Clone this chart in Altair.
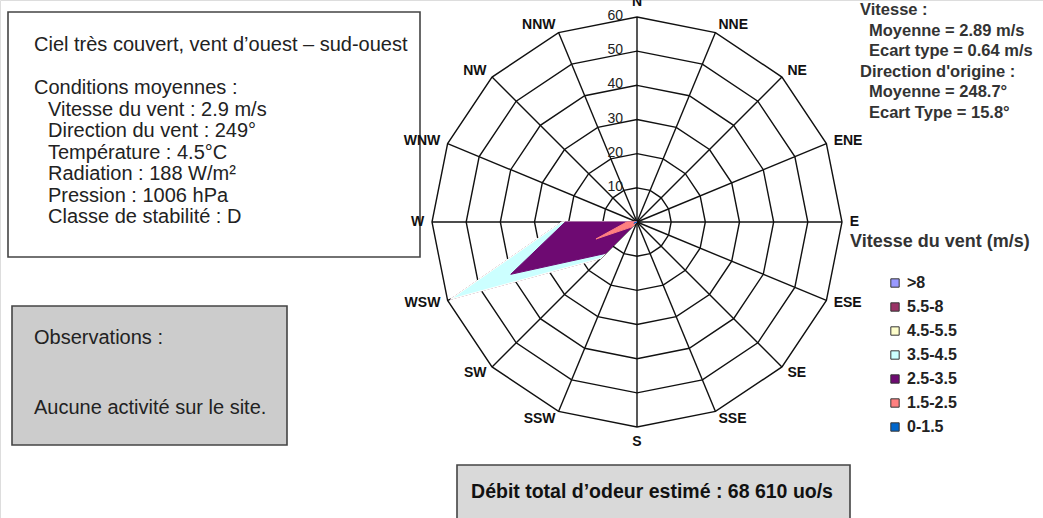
import altair as alt
import pandas as pd

# Compass sectors, clockwise from north
directions = ["N", "NNE", "NE", "ENE", "E", "ESE", "SE", "SSE",
              "S", "SSW", "SW", "WSW", "W", "WNW", "NW", "NNW"]

# Wind-speed classes (m/s), lowest first
classes = ["0-1.5", "1.5-2.5", "2.5-3.5", "3.5-4.5", "4.5-5.5", "5.5-8", ">8"]
class_colors = ["#0066CC", "#FF8080", "#6E0A72", "#CCFFFF", "#FFFFCC", "#993366", "#9999FF"]

# Frequency (%) of each class per sector
freq = {
    "0-1.5":   [0, 0, 0, 0, 0, 0, 0, 0, 0, 0, 0, 1, 0, 0, 0, 0],
    "1.5-2.5": [0, 0, 0, 0, 0, 0, 0, 0, 0, 0, 2, 12, 3, 0, 0, 0],
    "2.5-3.5": [0, 0, 0, 0, 0, 0, 0, 0, 0, 0, 11, 27, 18, 0, 0, 0],
    "3.5-4.5": [0, 0, 0, 0, 0, 0, 0, 0, 0, 0, 2, 19, 1, 0, 0, 0],
    "4.5-5.5": [0, 0, 0, 0, 0, 0, 0, 0, 0, 0, 0, 0, 0, 0, 0, 0],
    "5.5-8":   [0, 0, 0, 0, 0, 0, 0, 0, 0, 0, 0, 0, 0, 0, 0, 0],
    ">8":      [0, 0, 0, 0, 0, 0, 0, 0, 0, 0, 0, 0, 0, 0, 0, 0],
}

rings = [10, 20, 30, 40, 50, 60]

# Text blocks
conditions_title = "Ciel très couvert, vent d’ouest – sud-ouest"
conditions_lines = [
    "Conditions moyennes :",
    "Vitesse du vent : 2.9 m/s",
    "Direction du vent : 249°",
    "Température : 4.5°C",
    "Radiation : 188 W/m²",
    "Pression : 1006 hPa",
    "Classe de stabilité : D",
]
stats_lines = [
    ("Vitesse :", 0),
    ("Moyenne = 2.89 m/s", 1),
    ("Ecart type = 0.64 m/s", 1),
    ("Direction d'origine :", 0),
    ("Moyenne = 248.7°", 1),
    ("Ecart Type = 15.8°", 1),
]
observations = ["Observations :", "Aucune activité sur le site."]
total_flow = "Débit total d’odeur estimé : 68 610 uo/s"

FONT = "Liberation Sans"
W, H = 1043, 518
CX, CY, R60 = 637, 222, 205          # centre and outer-ring radius in pixels
ppu = R60 / 60.0
x_dom = [-CX / ppu, (W - CX) / ppu]
y_dom = [-(H - CY) / ppu, CY / ppu]

# ---- tables ---------------------------------------------------------------
rows = []
for ci, c in enumerate(classes):
    cum = [sum(freq[classes[j]][k] for j in range(ci + 1)) for k in range(16)]
    for k in range(16):
        rows.append({"classe": c, "k": k, "r": cum[k]})
rose = pd.DataFrame(rows)

grid = pd.DataFrame([{"ring": r, "k": k} for r in rings for k in range(16)])
spokes = pd.DataFrame({"k": list(range(16)), "dir": directions})
ring_labels = pd.DataFrame({"ring": rings})

xs = alt.Scale(domain=x_dom, nice=False, zero=False)
ys = alt.Scale(domain=y_dom, nice=False, zero=False)
X = lambda f: alt.X(f, type="quantitative", scale=xs, axis=None)
Y = lambda f: alt.Y(f, type="quantitative", scale=ys, axis=None)

ang = "datum.k * PI / 8"

grid_layer = alt.Chart(grid).transform_calculate(
    gx=f"datum.ring * sin({ang})", gy=f"datum.ring * cos({ang})"
).mark_line(color="#111", strokeWidth=1.4, interpolate="linear-closed").encode(
    x=X("gx"), y=Y("gy"), detail="ring:N", order="k:Q"
)

spoke_layer = alt.Chart(spokes).transform_calculate(
    x0="0", y0="0", x1=f"60 * sin({ang})", y1=f"60 * cos({ang})"
).mark_rule(color="#111", strokeWidth=1.4).encode(
    x=X("x0"), y=Y("y0"), x2="x1:Q", y2="y1:Q"
)

# Cumulative polygons, widest class at the back
rose_layers = []
for c, col in reversed(list(zip(classes, class_colors))):
    stroke = "#ffffff" if c == "3.5-4.5" else col
    lyr = alt.Chart(rose).transform_filter(
        alt.datum.classe == c
    ).transform_calculate(
        px=f"datum.r * sin({ang})", py=f"datum.r * cos({ang})"
    ).mark_line(fill=col, stroke=stroke, strokeWidth=1, interpolate="linear-closed").encode(
        x=X("px"), y=Y("py"), order="k:Q"
    )
    rose_layers.append(lyr)

# Sector names placed just outside the outer ring
lab = alt.Chart(spokes).transform_calculate(
    lx=f"62.3 * sin({ang})", ly=f"62.3 * cos({ang})"
)
dir_style = dict(font=FONT, fontSize=14, fontWeight="bold", color="#111")
dir_right = lab.transform_filter("datum.k > 0 && datum.k < 8").mark_text(
    align="left", baseline="middle", **dir_style).encode(x=X("lx"), y=Y("ly"), text="dir:N")
dir_left = lab.transform_filter("datum.k > 8").mark_text(
    align="right", baseline="middle", **dir_style).encode(x=X("lx"), y=Y("ly"), text="dir:N")
dir_top = lab.transform_filter("datum.k == 0").mark_text(
    align="center", baseline="bottom", **dir_style).encode(x=X("lx"), y=Y("ly"), text="dir:N")
dir_bottom = lab.transform_filter("datum.k == 8").mark_text(
    align="center", baseline="top", **dir_style).encode(x=X("lx"), y=Y("ly"), text="dir:N")

ring_text = alt.Chart(ring_labels).transform_calculate(zero="0").mark_text(
    font=FONT, fontSize=14, color="#222", align="right", baseline="middle", dx=-14, dy=-1
).encode(x=X("zero"), y=Y("ring"), text="ring:Q")

# Legend driven by the fill scale of a key layer
legend_layer = alt.Chart(pd.DataFrame({"classe": classes})).transform_calculate(
    zero="0").mark_square(size=0, opacity=1).encode(
    x=X("zero"), y=Y("zero"),
    fill=alt.Fill("classe:N",
                  scale=alt.Scale(domain=list(reversed(classes)),
                                  range=list(reversed(class_colors))),
                  legend=alt.Legend(
                      title=None, orient="none", legendX=887, legendY=275,
                      symbolType="square", symbolSize=70, symbolStrokeColor="#333",
                      symbolStrokeWidth=1, labelFont=FONT, labelFontSize=16,
                      labelFontWeight="bold", labelColor="#222", rowPadding=8,
                      labelOffset=4)),
)

one = pd.DataFrame({"v": [0]})


def box(x1, y1, x2, y2, fill):
    return alt.Chart(one).mark_rect(fill=fill, stroke="#444", strokeWidth=1.6).encode(
        x=alt.value(x1), x2=alt.value(x2), y=alt.value(y1), y2=alt.value(y2))


def label(txt, x, y, size, weight="normal", color="#222", align="left"):
    return alt.Chart(one).mark_text(
        text=txt, font=FONT, fontSize=size, fontWeight=weight, color=color,
        align=align, baseline="middle").encode(x=alt.value(x), y=alt.value(y))


annot = [box(8, 12, 420, 257, "#ffffff"), label(conditions_title, 34, 45, 20)]
for i, t in enumerate(conditions_lines):
    annot.append(label(t, 34 if i == 0 else 48, 88 + i * 21.5, 20))

annot += [box(12, 306, 287, 445, "#cccccc"),
          label(observations[0], 34, 338, 20),
          label(observations[1], 34, 408, 20)]

annot += [box(457, 465, 850, 530, "#d9d9d9"),
          label(total_flow, 652, 492, 19.5, "bold", "#111", "center")]

for i, (t, ind) in enumerate(stats_lines):
    annot.append(label(t, 860 + 9 * ind, 10 + i * 20.6, 16.5, "bold", "#333"))

annot.append(label("Vitesse du vent (m/s)", 850, 242, 18, "bold", "#333"))

chart = alt.layer(
    *annot, grid_layer, spoke_layer, *rose_layers,
    dir_right, dir_left, dir_top, dir_bottom, ring_text, legend_layer
).properties(
    width=W, height=H, padding=0, autosize=alt.AutoSizeParams(type="none")
).configure_view(stroke=None).configure(background="#ffffff")

chart.save("out.html", embed_options={"renderer": "svg", "actions": False})
